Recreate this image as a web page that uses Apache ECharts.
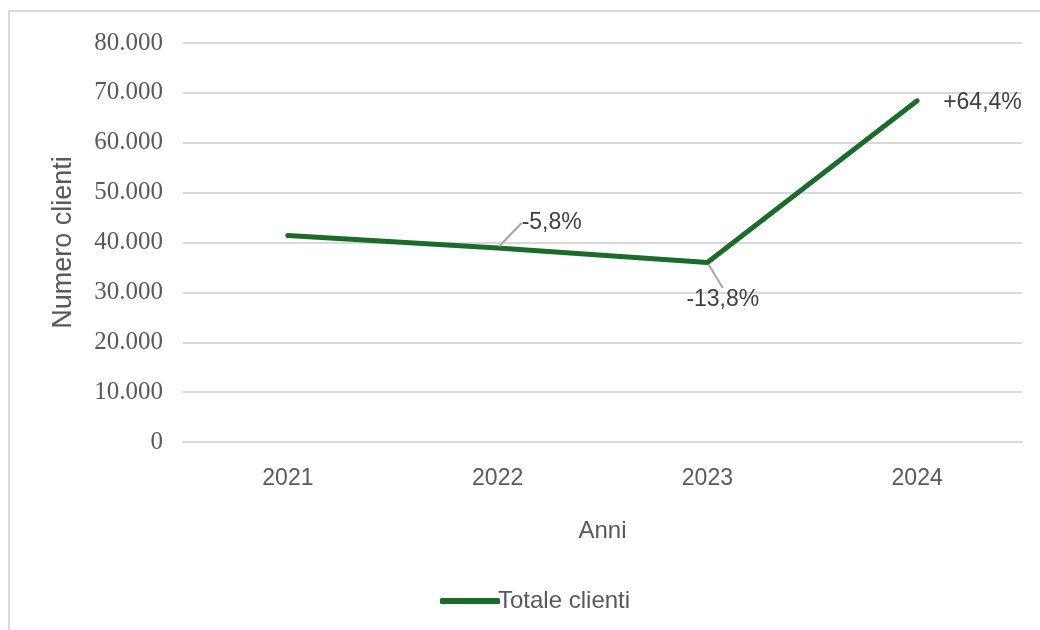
<!DOCTYPE html>
<html>
<head>
<meta charset="utf-8">
<script src="https://cdn.jsdelivr.net/npm/echarts@6/dist/echarts.min.js"></script>
<style>
html,body{margin:0;padding:0;background:#fff;}
#chart{width:1040px;height:630px;}
</style>
</head>
<body>
<div id="chart"></div>
<script>
const years = ['2021', '2022', '2023', '2024'];
const clienti = [41400, 38900, 36000, 68400];
const variazioni = ['', '-5,8%', '-13,8%', '+64,4%'];
const seriesName = 'Totale clienti';
const yAxisName = 'Numero clienti';
const xAxisName = 'Anni';

const labelOffsets = [[0, 0], [17, -25], [-28, 37], [19, 2]];

const chart = echarts.init(document.getElementById('chart'));
chart.setOption({
  animation: false,
  backgroundColor: '#ffffff',
  graphic: [{
    type: 'rect',
    silent: true,
    shape: { x: 9, y: 11, width: 1200, height: 800 },
    style: { fill: 'none', stroke: '#d9d9d9', lineWidth: 2 }
  }],
  grid: { left: 183, right: 18, top: 43, bottom: 188 },
  legend: {
    left: 435,
    top: 584,
    icon: 'roundRect',
    itemWidth: 60,
    itemHeight: 6,
    itemGap: 10,
    textStyle: { fontFamily: 'Liberation Sans', fontSize: 24, color: '#595959', padding: [0, 0, 0, -7] },
    data: [seriesName]
  },
  xAxis: {
    type: 'category',
    data: years,
    boundaryGap: true,
    name: xAxisName,
    nameLocation: 'middle',
    nameGap: 77,
    nameTextStyle: { fontFamily: 'Liberation Sans', fontSize: 24, color: '#595959' },
    axisLine: { show: true, lineStyle: { color: '#d9d9d9', width: 2 } },
    axisTick: { show: false },
    axisLabel: { margin: 25, fontFamily: 'Liberation Sans', fontSize: 23, color: '#595959' }
  },
  yAxis: {
    type: 'value',
    min: 0,
    max: 80000,
    interval: 10000,
    name: yAxisName,
    nameLocation: 'middle',
    nameGap: 106,
    nameTextStyle: { fontFamily: 'Liberation Sans', fontSize: 27, color: '#595959' },
    axisLine: { show: false },
    axisTick: { show: false },
    splitLine: { lineStyle: { color: '#d9d9d9', width: 2 } },
    axisLabel: {
      margin: 20,
      fontFamily: 'Liberation Serif',
      fontSize: 25,
      color: '#595959',
      formatter: function (v) { return v.toString().replace(/\B(?=(\d{3})+(?!\d))/g, '.'); }
    }
  },
  series: [{
    name: seriesName,
    type: 'line',
    showSymbol: true,
    symbol: 'circle',
    symbolSize: 4,
    lineStyle: { color: '#1b6b2a', width: 5, cap: 'round', join: 'round' },
    itemStyle: { color: '#1b6b2a', borderWidth: 0 },
    data: clienti.map(function (v, i) {
      return {
        value: v,
        label: { show: variazioni[i] !== '' },
        labelLine: { show: i === 1 || i === 2 }
      };
    }),
    label: {
      show: true,
      position: 'right',
      distance: 5,
      fontFamily: 'Liberation Sans',
      fontSize: 23,
      color: '#404040',
      formatter: function (p) { return variazioni[p.dataIndex]; }
    },
    labelLine: { show: false, lineStyle: { color: '#a6a6a6', width: 2 } },
    labelLayout: function (params) {
      const o = labelOffsets[params.dataIndex];
      return { dx: o[0], dy: o[1] };
    }
  }]
});
</script>
</body>
</html>
